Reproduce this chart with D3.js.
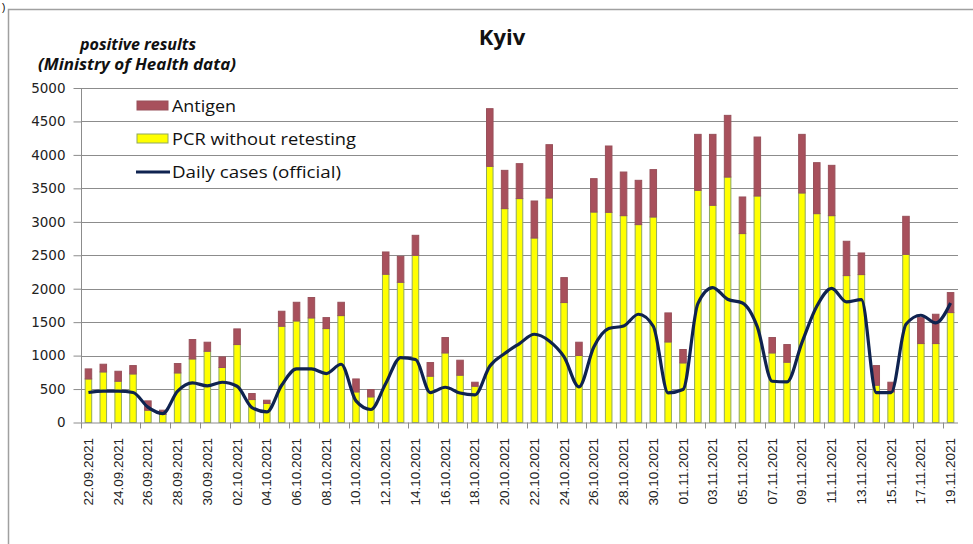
<!DOCTYPE html>
<html><head><meta charset="utf-8">
<script src="https://cdn.jsdelivr.net/npm/d3@7"></script>
<style>body{margin:0;background:#fff}svg{display:block}</style>
</head><body>
<script>
const dates = ["22.09.2021","23.09.2021","24.09.2021","25.09.2021","26.09.2021","27.09.2021","28.09.2021","29.09.2021","30.09.2021",
"01.10.2021","02.10.2021","03.10.2021","04.10.2021","05.10.2021","06.10.2021","07.10.2021","08.10.2021","09.10.2021","10.10.2021",
"11.10.2021","12.10.2021","13.10.2021","14.10.2021","15.10.2021","16.10.2021","17.10.2021","18.10.2021","19.10.2021","20.10.2021",
"21.10.2021","22.10.2021","23.10.2021","24.10.2021","25.10.2021","26.10.2021","27.10.2021","28.10.2021","29.10.2021","30.10.2021",
"31.10.2021","01.11.2021","02.11.2021","03.11.2021","04.11.2021","05.11.2021","06.11.2021","07.11.2021","08.11.2021","09.11.2021",
"10.11.2021","11.11.2021","12.11.2021","13.11.2021","14.11.2021","15.11.2021","16.11.2021","17.11.2021","18.11.2021","19.11.2021"];
const pcr = [651,756,617,726,184,120,741,950,1065,822,1165,343,284,1439,1518,1563,1404,1598,457,383,2216,2096,2499,692,1040,707,542,3829,3197,
3347,2758,3356,1793,1001,3146,3142,3092,2958,3072,1204,891,3471,3247,3669,2824,3386,1040,901,3431,3122,3092,2196,2211,557,457,2514,1180,1180,1643];
const antigenTotal = [801,871,766,851,323,184,881,1240,1200,980,1399,433,333,1663,1797,1868,1568,1797,651,493,2549,2485,2798,896,1270,931,602,4691,3769,
3869,3311,4153,2166,1200,3645,4133,3744,3620,3780,1638,1091,4307,4307,4591,3371,4267,1270,1165,4307,3884,3844,2709,2534,851,602,3082,1568,1618,1942];
const antigen = antigenTotal.map((t,i)=>t-pcr[i]);
const daily = [448,468,468,448,230,134,468,592,547,602,542,224,158,557,801,801,732,871,323,194,583,971,941,448,527,440,412,841,1031,
1180,1319,1219,980,532,1129,1404,1443,1618,1439,443,493,1778,2017,1842,1787,1429,617,607,1195,1738,2006,1802,1838,448,448,1468,1603,1488,1787];
const yTicks = [0,500,1000,1500,2000,2500,3000,3500,4000,4500,5000];
const legendItems = ["Antigen","PCR without retesting","Daily cases (official)"];

const W=973,H=544;
const svg=d3.select("body").append("svg").attr("width",W).attr("height",H);
const pL=81,pR=958,pT=88,pB=422.5;
const x=d3.scaleBand().domain(dates).range([pL,pR]).paddingInner(0.56).paddingOuter(0.28);
const xs=d3.scaleBand().domain(dates).range([pL,pR]);
const y=d3.scaleLinear().domain([0,5000]).range([pB,pT]);

// frame
svg.append("path").attr("d",`M8.5,${H}V9.5H${W}`).attr("fill","none").attr("stroke","#a0a0a0").attr("stroke-width",1.5);
svg.append("text").attr("x",2).attr("y",11).attr("font-family","Liberation Sans, Arial").attr("font-size",10).text(")");

// grid
svg.append("g").selectAll("line").data(yTicks.filter(d=>d>0)).join("line")
 .attr("x1",pL).attr("x2",pR).attr("y1",d=>Math.round(y(d))+0.5).attr("y2",d=>Math.round(y(d))+0.5)
 .attr("stroke","#8c8c8c").attr("stroke-width",1);

// y axis
const ya=svg.append("g").attr("transform",`translate(${pL+0.5},0)`)
 .call(d3.axisLeft(y).tickValues(yTicks).tickSize(8).tickPadding(8).tickFormat(d3.format("d")));
ya.select(".domain").attr("stroke","#8c8c8c").attr("d",`M0,${pT}V${pB}`);
ya.selectAll(".tick line").attr("stroke","#8c8c8c");
ya.selectAll("text").attr("font-family","DejaVu Sans, Verdana").attr("font-size",13.5).attr("fill","#222");

// bars
const g=svg.append("g");
g.selectAll("rect.pcr").data(dates).join("rect").attr("class","pcr")
 .attr("x",d=>x(d)).attr("width",x.bandwidth())
 .attr("y",(d,i)=>y(pcr[i])).attr("height",(d,i)=>y(0)-y(pcr[i]))
 .attr("fill","#ffff00").attr("stroke","#8fa860").attr("stroke-width",1);
g.selectAll("rect.ag").data(dates).join("rect").attr("class","ag")
 .attr("x",d=>x(d)).attr("width",x.bandwidth())
 .attr("y",(d,i)=>y(pcr[i]+antigen[i])).attr("height",(d,i)=>y(pcr[i])-y(pcr[i]+antigen[i]))
 .attr("fill","#a8505c").attr("stroke","#98505a").attr("stroke-width",1);

// x axis
svg.append("line").attr("x1",pL).attr("x2",pR).attr("y1",pB+0.5).attr("y2",pB+0.5).attr("stroke","#8c8c8c");
const tickIdx=d3.range(0,dates.length+1,2);
svg.append("g").selectAll("line").data(tickIdx).join("line")
 .attr("x1",i=>Math.round(pL+i*xs.step())+0.5).attr("x2",i=>Math.round(pL+i*xs.step())+0.5)
 .attr("y1",pB).attr("y2",pB+6).attr("stroke","#8c8c8c");
svg.append("g").selectAll("text").data(dates.filter((d,i)=>i%2===0)).join("text")
 .attr("transform",d=>`translate(${xs(d)+xs.bandwidth()/2+4.5},438) rotate(-90)`)
 .attr("text-anchor","end").attr("font-family","Liberation Sans, Arial").attr("font-size",13.5).attr("fill","#222")
 .text(d=>d);

// line
const line=d3.line().x((d,i)=>xs(dates[i])+xs.bandwidth()/2).y(d=>y(d)).curve(d3.curveMonotoneX);
svg.append("path").datum(daily).attr("d",line).attr("fill","none").attr("stroke","#0f2350").attr("stroke-width",3.2).attr("stroke-linejoin","round");

// title
svg.append("text").attr("x",502).attr("y",45).attr("text-anchor","middle").attr("font-family","Open Sans, Liberation Sans").attr("font-weight","bold").attr("font-size",22).attr("fill","#111").text("Kyiv");
// y-axis title
const yt=svg.append("g").attr("font-family","Open Sans, Liberation Sans").attr("font-weight","bold").attr("font-style","italic").attr("font-size",16).attr("fill","#111").attr("text-anchor","middle");
yt.append("text").attr("x",138).attr("y",50).attr("textLength",116).attr("lengthAdjust","spacingAndGlyphs").text("positive results");
yt.append("text").attr("x",137).attr("y",70).attr("textLength",198).attr("lengthAdjust","spacingAndGlyphs").text("(Ministry of Health data)");

// legend
const legendW=[64,184,169];
const lg=svg.append("g").attr("font-family","Open Sans, Liberation Sans").attr("font-size",17).attr("fill","#111");
lg.append("rect").attr("x",137).attr("y",101).attr("width",31).attr("height",9).attr("fill","#a8505c").attr("stroke","#98505a");
lg.append("rect").attr("x",137).attr("y",134).attr("width",31).attr("height",9).attr("fill","#ffff00").attr("stroke","#8fa860");
lg.append("line").attr("x1",136).attr("x2",170).attr("y1",172).attr("y2",172).attr("stroke","#0f2350").attr("stroke-width",3.2);
lg.selectAll("text").data(legendItems).join("text").attr("x",172).attr("y",(d,i)=>112+i*33)
 .attr("textLength",(d,i)=>legendW[i]).attr("lengthAdjust","spacingAndGlyphs").text(d=>d);
</script>
</body></html>
